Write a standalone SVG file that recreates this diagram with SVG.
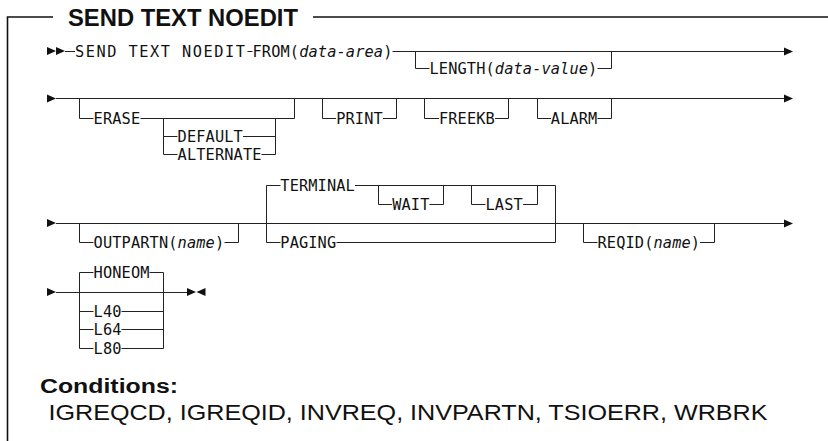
<svg xmlns="http://www.w3.org/2000/svg" width="828" height="441" viewBox="0 0 828 441">
<style>
.ln{fill:none;stroke:#222;stroke-width:1}
.fr{fill:none;stroke:#111;stroke-width:1.6}
.t{font-family:"DejaVu Sans Mono","Liberation Mono",monospace;font-size:15.3px;letter-spacing:0.12px;fill:#111}
.i{font-style:italic}
.ar{fill:#111}
.ttl{font-family:"Liberation Sans",Arial,sans-serif;font-weight:bold;font-size:23px;fill:#111}
.cb{font-family:"Liberation Sans",Arial,sans-serif;font-weight:bold;font-size:20px;fill:#111}
.cl{font-family:"Liberation Sans",Arial,sans-serif;font-size:22px;fill:#111}
</style>
<rect width="828" height="441" fill="#fff"/>
<g id="frame">
<path class="fr" d="M7.5 441 V17 H53 M313 17 H828"/>
<text class="ttl" x="68" y="25.5" textLength="230" lengthAdjust="spacingAndGlyphs">SEND TEXT NOEDIT</text>
</g>
<g id="connectors">
<polygon class="ar" points="47,47 56,51 47,55"/>
<polygon class="ar" points="56,47 65,51 56,55"/>
<path class="ln" d="M65 51.5 H75 M247.5 51.5 H252.5 M392.5 51.5 H784"/>
<polygon class="ar" points="784,47.5 793,51.5 784,55.5"/>
<path class="ln" d="M415.5 51.5 V68.5 H429.5 M597.5 68.5 H611.5 V51.5"/>
<polygon class="ar" points="47,94.5 56,98.5 47,102.5"/>
<path class="ln" d="M56 98.5 H784"/>
<polygon class="ar" points="784,94.5 793,98.5 784,102.5"/>
<path class="ln" d="M79.5 98.5 V118.5 H93.5 M140.5 118.5 H294.5 V98.5"/>
<path class="ln" d="M163.5 118.5 V154.5 H177.5 M163.5 136.5 H177.5 M243 136.5 H275.5 M261.5 154.5 H275.5 M275.5 118.5 V154.5"/>
<path class="ln" d="M322.5 98.5 V118.5 H336 M383 118.5 H396.5 V98.5"/>
<path class="ln" d="M424.5 98.5 V118.5 H439 M495 118.5 H508.5 V98.5"/>
<path class="ln" d="M537.5 98.5 V118.5 H551 M597.5 118.5 H611.5 V98.5"/>
<polygon class="ar" points="47,219 56,223 47,227"/>
<path class="ln" d="M56 223.5 H784"/>
<polygon class="ar" points="784,219.5 793,223.5 784,227.5"/>
<path class="ln" d="M79.5 223.5 V242.5 H93.5 M224.5 242.5 H238.5 V223.5"/>
<path class="ln" d="M280.5 185.5 H266.5 V242.5 H280.5 M355 185.5 H555.5 V242.5 H336.5"/>
<path class="ln" d="M378.5 185.5 V204.5 H392 M429.5 204.5 H443.5 V185.5"/>
<path class="ln" d="M471.5 185.5 V204.5 H485.5 M523 204.5 H537.5 V185.5"/>
<path class="ln" d="M583.5 223.5 V242.5 H597.5 M700 242.5 H714.5 V223.5"/>
<polygon class="ar" points="47,288 56,292 47,296"/>
<path class="ln" d="M56 292.5 H187"/>
<path class="ln" d="M93.5 272.5 H79.5 V348.5 H93.5 M79.5 311.5 H93.5 M79.5 329.5 H93.5"/>
<path class="ln" d="M149.5 272.5 H163.5 V348.5 H121.5 M121.5 311.5 H163.5 M121.5 329.5 H163.5"/>
<polygon class="ar" points="187,288 196,292 187,296"/>
<polygon class="ar" points="205.5,288 196.5,292 205.5,296"/>
</g>
<g id="n-send"><text class="t" x="75" y="57.2" style="letter-spacing:1.5px">SEND TEXT NOEDIT</text></g>
<g id="n-from"><text class="t" x="252.5" y="57.2">FROM(<tspan class="i">data-area</tspan>)</text></g>
<g id="n-length"><text class="t" x="429.5" y="74.2">LENGTH(<tspan class="i">data-value</tspan>)</text></g>
<g id="n-erase"><text class="t" x="93.6" y="124.2">ERASE</text></g>
<g id="n-default"><text class="t" x="177.6" y="142.2">DEFAULT</text></g>
<g id="n-alternate"><text class="t" x="177.6" y="160.2">ALTERNATE</text></g>
<g id="n-print"><text class="t" x="336.2" y="124.2">PRINT</text></g>
<g id="n-freekb"><text class="t" x="438.9" y="124.2">FREEKB</text></g>
<g id="n-alarm"><text class="t" x="550.8" y="124.2">ALARM</text></g>
<g id="n-outpartn"><text class="t" x="93.6" y="248.2">OUTPARTN(<tspan class="i">name</tspan>)</text></g>
<g id="n-terminal"><text class="t" x="280.3" y="191.2">TERMINAL</text></g>
<g id="n-wait"><text class="t" x="392.2" y="210.2">WAIT</text></g>
<g id="n-last"><text class="t" x="485.5" y="210.2">LAST</text></g>
<g id="n-paging"><text class="t" x="280.3" y="248.2">PAGING</text></g>
<g id="n-reqid"><text class="t" x="597.5" y="248.2">REQID(<tspan class="i">name</tspan>)</text></g>
<g id="n-honeom"><text class="t" x="93.6" y="278.2">HONEOM</text></g>
<g id="n-l40"><text class="t" x="93.6" y="317.2">L40</text></g>
<g id="n-l64"><text class="t" x="93.6" y="335.2">L64</text></g>
<g id="n-l80"><text class="t" x="93.6" y="354.2">L80</text></g>
<g id="conditions">
<text class="cb" x="40" y="392.5" textLength="138" lengthAdjust="spacingAndGlyphs">Conditions:</text>
<text class="cl" x="48.5" y="420" textLength="719" lengthAdjust="spacingAndGlyphs">IGREQCD, IGREQID, INVREQ, INVPARTN, TSIOERR, WRBRK</text>
</g>
</svg>
